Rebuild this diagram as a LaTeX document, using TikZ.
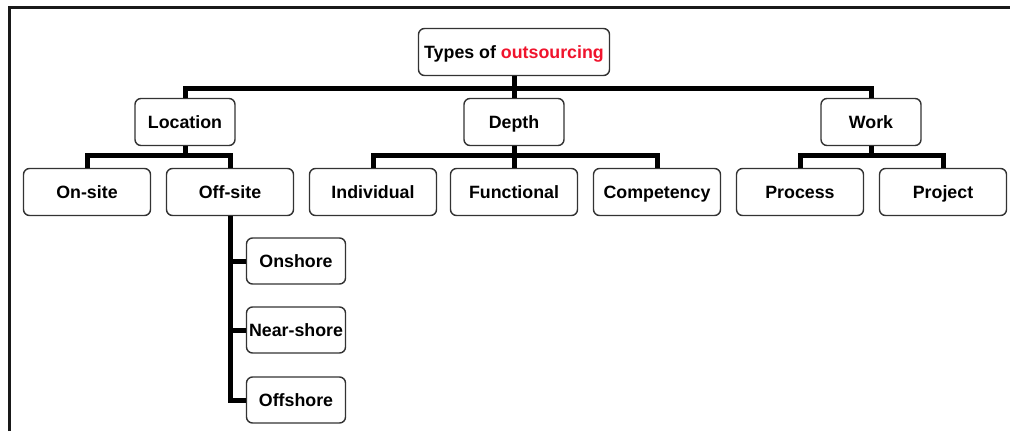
\documentclass[tikz,border=0pt]{standalone}
\usepackage{fontspec}
\setmainfont{Liberation Sans}
\definecolor{hot}{RGB}{240,20,45}

\begin{document}
\begin{tikzpicture}[x=1pt,y=-1pt,
        box/.style={draw=black!80,line width=1.4pt,rounded corners=6pt,fill=white,
            inner sep=2pt,minimum height=47pt,text height=12.8pt,text depth=0.8pt,
            font=\bfseries\fontsize{17.8}{21}\selectfont},
        bus/.style={line width=5pt}]
        \useasboundingbox (0,0) rectangle (1011,431);
        \draw [line width=3pt,black!90] (9.5,431) -- (9.5,7) -- (1010,7);
        \node [box,minimum width=191pt] (top) at (514,52) {Types of \textcolor{hot}{outsourcing}};
        \node [box,minimum width=100pt] (loc) at (185,122) {Location};
        \node [box,minimum width=100pt] (dep) at (514,122) {Depth};
        \node [box,minimum width=100pt] (wrk) at (871,122) {Work};
        \node [box,minimum width=127pt] (ons) at (87,192) {On-site};
        \node [box,minimum width=127pt] (off) at (230,192) {Off-site};
        \node [box,minimum width=127pt] (ind) at (373,192) {Individual};
        \node [box,minimum width=127pt] (fun) at (514,192) {Functional};
        \node [box,minimum width=127pt] (com) at (657,192) {Competency};
        \node [box,minimum width=127pt] (pro) at (800,192) {Process};
        \node [box,minimum width=127pt] (prj) at (943,192) {Project};
        \node [box,minimum width=99pt,minimum height=46pt] (onsh) at (296,261) {Onshore};
        \node [box,minimum width=99pt,minimum height=46pt] (near) at (296,330) {Near-shore};
        \node [box,minimum width=99pt,minimum height=46pt] (offsh) at (296,400) {Offshore};
        % top level
        \draw [bus] (top.south) -- ++(0,12) -| (loc.north);
        \draw [bus] (top.south) -- ++(0,12) -| (wrk.north);
        \draw [bus] (top.south) -- (dep.north);
        % location
        \draw [bus] (loc.south) -- ++(0,9) -| (ons.north);
        \draw [bus] (loc.south) -- ++(0,9) -| (off.north);
        \draw [bus] (off.south) |- (onsh.west);
        \draw [bus] (off.south) |- (near.west);
        \draw [bus] (off.south) |- (offsh.west);
        % depth
        \draw [bus] (dep.south) -- ++(0,9) -| (ind.north);
        \draw [bus] (dep.south) -- ++(0,9) -| (com.north);
        \draw [bus] (dep.south) -- (fun.north);
        % work
        \draw [bus] (wrk.south) -- ++(0,9) -| (pro.north);
        \draw [bus] (wrk.south) -- ++(0,9) -| (prj.north);
    \end{tikzpicture}
\end{document}
